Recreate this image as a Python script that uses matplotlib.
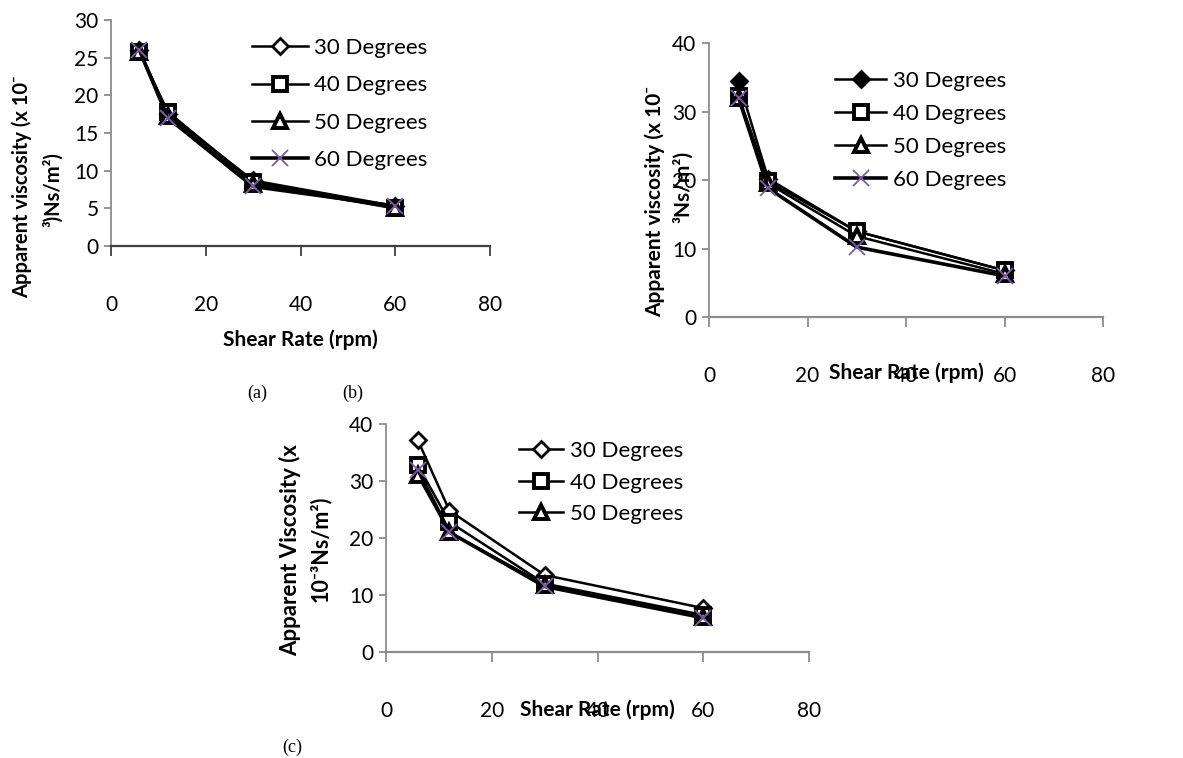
import matplotlib.pyplot as plt
import numpy as np

plt.rcParams['font.family'] = ['Lato', 'DejaVu Sans']

shear = [6, 12, 30, 60]
labels = ['30 Degrees', '40 Degrees', '50 Degrees', '60 Degrees']

# panel (a)
a30 = [26.0, 17.5, 8.7, 5.3]
a40 = [25.8, 17.8, 8.5, 5.0]
a50 = [25.8, 17.2, 8.2, 5.0]
a60 = [26.0, 17.0, 7.9, 5.3]

# panel (b)
b30 = [34.5, 20.2, 12.5, 6.8]
b40 = [32.3, 19.8, 12.5, 6.8]
b50 = [32.0, 19.5, 11.8, 6.3]
b60 = [32.0, 18.8, 10.2, 6.0]

# panel (c)
c30 = [37.2, 24.8, 13.5, 7.7]
c40 = [32.8, 22.8, 12.0, 6.5]
c50 = [31.0, 21.0, 11.8, 6.2]
c60 = [32.0, 21.0, 11.5, 6.0]

purple = '#7b5ea7'
gray = '#8c8c8c'


def style(ax, ymax, ystep, bottom_color=gray):
    ax.set_xlim(0, 80)
    ax.set_ylim(0, ymax)
    ax.set_xticks(np.arange(0, 81, 20))
    ax.set_yticks(np.arange(0, ymax + 1, ystep))
    for s in ['top', 'right']:
        ax.spines[s].set_visible(False)
    ax.spines['left'].set_color(gray)
    ax.spines['left'].set_linewidth(1.3)
    ax.spines['bottom'].set_color(bottom_color)
    ax.spines['bottom'].set_linewidth(1.6)
    ax.tick_params(axis='x', direction='out', length=7, width=1.3, color=bottom_color,
                   labelsize=15, pad=28)
    ax.tick_params(axis='y', direction='out', length=5, width=1.3, color=gray,
                   labelsize=15, pad=4)


def draw(ax, s30, s40, s50, s60, filled30=False):
    lines = []
    l, = ax.plot(shear, s30, color='black', lw=1.8, marker='D', ms=8,
                 mfc='black' if filled30 else 'white', mec='black', mew=2)
    lines.append(l)
    l, = ax.plot(shear, s40, color='black', lw=1.8, marker='s', ms=10,
                 mfc='white', mec='black', mew=2.8)
    lines.append(l)
    l, = ax.plot(shear, s50, color='black', lw=1.8, marker='^', ms=10,
                 mfc='white', mec='black', mew=2.8)
    lines.append(l)
    l, = ax.plot(shear, s60, color='black', lw=2.6, marker='x', ms=12,
                 mec=purple, mew=1.3)
    lines.append(l)
    return lines


fig = plt.figure(figsize=(11.83, 7.58), dpi=100)
W, H = 1183, 758


def add_axes(l, r, t, b):
    return fig.add_axes([l / W, 1 - b / H, (r - l) / W, (b - t) / H])


def ylab(x, y, txt, size=15):
    fig.text(x / W, 1 - y / H, txt, rotation=90, ha='center', va='center',
             fontsize=size, fontweight='bold')


# (a)
axa = add_axes(111, 490, 20, 246)
style(axa, 30, 5, bottom_color='#404040')
la = draw(axa, a30, a40, a50, a60)
axa.legend(la, labels, loc='upper left', bbox_to_anchor=(252 / W, 1 - 38 / H),
           bbox_transform=fig.transFigure, frameon=False, fontsize=16,
           handlelength=2.5, handletextpad=0.3, labelspacing=0.78,
           borderpad=0, borderaxespad=0)
ylab(22, 187, 'Apparent viscosity (x 10\u207b', 14.5)
ylab(53, 190, '\u00b3)Ns/m\u00b2)', 14.5)
fig.text(300 / W, 1 - 340 / H, 'Shear Rate (rpm)', ha='center', va='center',
         fontsize=15, fontweight='bold')

# (b)
axb = add_axes(709, 1103, 43, 317)
style(axb, 40, 10)
lb = draw(axb, b30, b40, b50, b60, filled30=True)
axb.legend(lb, labels, loc='upper left', bbox_to_anchor=(835 / W, 1 - 71 / H),
           bbox_transform=fig.transFigure, frameon=False, fontsize=16,
           handlelength=2.3, handletextpad=0.3, labelspacing=0.58,
           borderpad=0, borderaxespad=0)
ylab(655, 201, 'Apparent viscosity (x 10\u207b', 15)
ylab(683, 187, '\u00b3Ns/m\u00b2)', 15)
fig.text(906 / W, 1 - 373 / H, 'Shear Rate (rpm)', ha='center', va='center',
         fontsize=15, fontweight='bold')

# (c)
axc = add_axes(386, 809, 424, 652)
style(axc, 40, 10)
lc = draw(axc, c30, c40, c50, c60)
axc.legend(lc[:3], labels[:3], loc='upper left', bbox_to_anchor=(519 / W, 1 - 441 / H),
           bbox_transform=fig.transFigure, frameon=False, fontsize=16,
           handlelength=2.0, handletextpad=0.3, labelspacing=0.52,
           borderpad=0, borderaxespad=0)
ylab(290, 550, 'Apparent Viscosity (x', 16)
ylab(320, 549, '10\u207b\u00b3Ns/m\u00b2)', 15.5)
fig.text(597 / W, 1 - 710 / H, 'Shear Rate (rpm)', ha='center', va='center',
         fontsize=15, fontweight='bold')

for txt, x, y in [('(a)', 257, 393), ('(b)', 353, 393), ('(c)', 292, 747)]:
    fig.text(x / W, 1 - y / H, txt, ha='center', va='center', fontsize=13,
             family='Liberation Serif')

fig.savefig('out.png', dpi=100)
